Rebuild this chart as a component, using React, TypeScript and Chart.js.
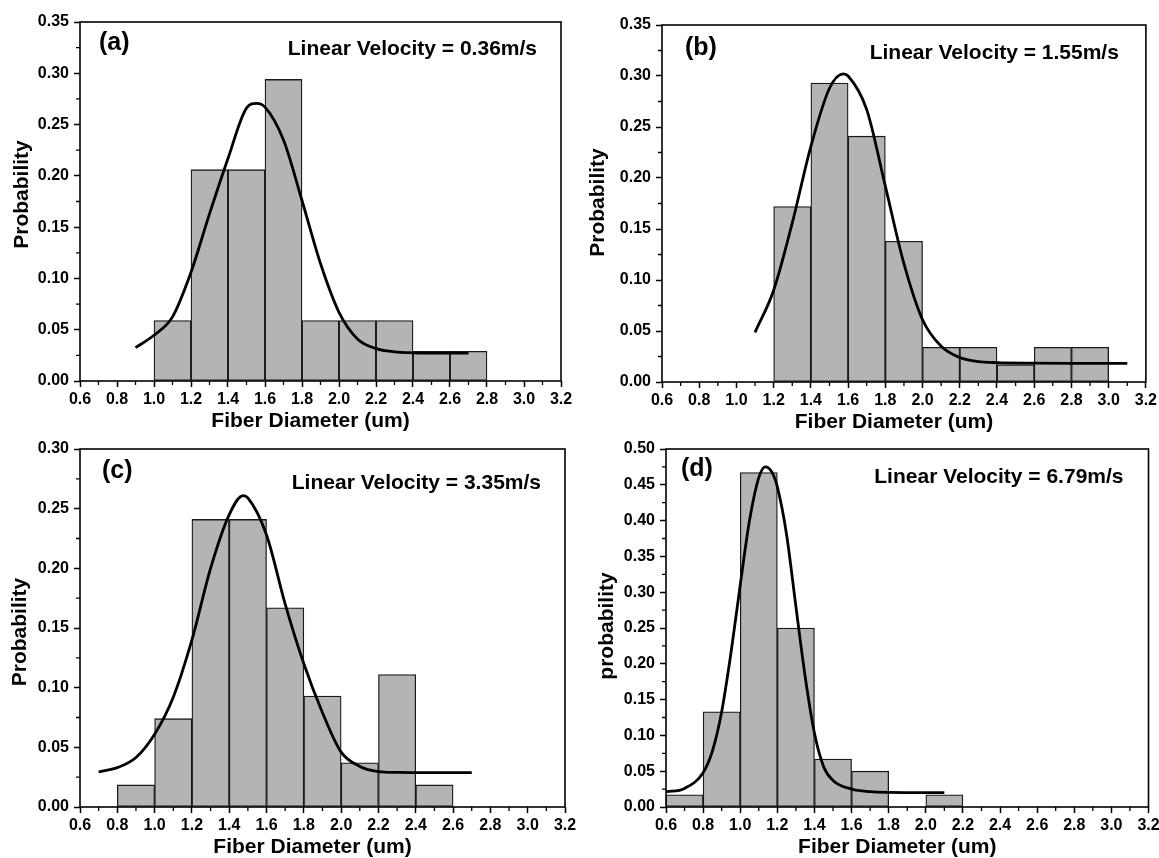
import React, { useEffect, useRef } from 'react';
import { Chart, registerables } from 'chart.js';

Chart.register(...registerables);

// ---------- data ----------
const xTickValues = [0.6, 0.8, 1.0, 1.2, 1.4, 1.6, 1.8, 2.0, 2.2, 2.4, 2.6, 2.8, 3.0, 3.2];
const xMinorTicks = [0.7, 0.9, 1.1, 1.3, 1.5, 1.7, 1.9, 2.1, 2.3, 2.5, 2.7, 2.9, 3.1];
const yTicks035 = [0, 0.05, 0.1, 0.15, 0.2, 0.25, 0.3, 0.35];
const yMinor035 = [0.025, 0.075, 0.125, 0.175, 0.225, 0.275, 0.325];
const yTicks030 = [0, 0.05, 0.1, 0.15, 0.2, 0.25, 0.3];
const yMinor030 = [0.025, 0.075, 0.125, 0.175, 0.225, 0.275];
const yTicks050 = [0, 0.05, 0.1, 0.15, 0.2, 0.25, 0.3, 0.35, 0.4, 0.45, 0.5];
const yMinor050 = [0.025, 0.075, 0.125, 0.175, 0.225, 0.275, 0.325, 0.375, 0.425, 0.475];

// (a) 0.36 m/s
const binCentersA = [1.1, 1.3, 1.5, 1.7, 1.9, 2.1, 2.3, 2.5, 2.7];
const probA = [0.059, 0.206, 0.206, 0.294, 0.059, 0.059, 0.059, 0.029, 0.029];
const fitXA = [0.9, 1.0, 1.1, 1.2, 1.3, 1.4, 1.5, 1.555, 1.6, 1.7, 1.8, 1.9, 2.0, 2.1, 2.2, 2.3, 2.4, 2.5, 2.6, 2.7];
const fitYA = [0.0325, 0.0446, 0.0625, 0.106, 0.163, 0.217, 0.266, 0.2707, 0.267, 0.235, 0.176, 0.1145, 0.067, 0.041, 0.0316, 0.0285, 0.0275, 0.0272, 0.0271, 0.0271];

// (b) 1.55 m/s
const binCentersB = [1.3, 1.5, 1.7, 1.9, 2.1, 2.3, 2.5, 2.7, 2.9];
const probB = [0.172, 0.293, 0.241, 0.138, 0.034, 0.034, 0.017, 0.034, 0.034];
const fitXB = [1.1, 1.2, 1.3, 1.4, 1.5, 1.575, 1.6, 1.7, 1.8, 1.9, 2.0, 2.1, 2.2, 2.3, 2.4, 2.6, 2.8, 3.0, 3.1];
const fitYB = [0.0487, 0.09, 0.156, 0.231, 0.288, 0.302, 0.3, 0.267, 0.192, 0.116, 0.061, 0.035, 0.024, 0.02, 0.019, 0.0185, 0.0183, 0.0183, 0.0183];

// (c) 3.35 m/s
const binCentersC = [0.9, 1.1, 1.3, 1.5, 1.7, 1.9, 2.1, 2.3, 2.5];
const probC = [0.0185, 0.074, 0.241, 0.241, 0.167, 0.093, 0.037, 0.111, 0.0185];
const fitXC = [0.7, 0.8, 0.9, 1.0, 1.1, 1.2, 1.3, 1.4, 1.475, 1.5, 1.6, 1.7, 1.8, 1.9, 2.0, 2.1, 2.2, 2.3, 2.5, 2.7];
const fitYC = [0.0295, 0.033, 0.0415, 0.061, 0.092, 0.14, 0.2, 0.245, 0.261, 0.259, 0.228, 0.17, 0.12, 0.079, 0.046, 0.034, 0.0297, 0.029, 0.0288, 0.0288];

// (d) 6.79 m/s
const binCentersD = [0.7, 0.9, 1.1, 1.3, 1.5, 1.7, 2.1];
const probD = [0.017, 0.133, 0.467, 0.25, 0.067, 0.05, 0.017];
const fitXD = [0.6, 0.7, 0.8, 0.85, 0.9, 0.95, 1.0, 1.05, 1.1, 1.135, 1.17, 1.2, 1.25, 1.3, 1.35, 1.4, 1.45, 1.5, 1.6, 1.7, 1.8, 2.1];
const fitYD = [0.021, 0.026, 0.048, 0.078, 0.133, 0.215, 0.31, 0.4, 0.46, 0.475, 0.468, 0.447, 0.38, 0.28, 0.182, 0.103, 0.056, 0.037, 0.025, 0.0215, 0.0205, 0.02];

const panelTags = ['(a)', '(b)', '(c)', '(d)'];
const velocityLabels = [
  'Linear Velocity = 0.36m/s',
  'Linear Velocity = 1.55m/s',
  'Linear Velocity = 3.35m/s',
  'Linear Velocity = 6.79m/s',
];
const yTitles = ['Probability', 'Probability', 'Probability', 'probability'];
const xTitle = 'Fiber Diameter (um)';

// ---------- layout / styles ----------
const FONT = "'Liberation Sans', Arial, Helvetica, sans-serif";
const layouts = [
  { x0: 0, y0: 0, w: 580, h: 440, L: 80, R: 561, T: 22, B: 381, yTitleX: 22, yTitleDy: -7, tagDx: 19, tagDy: 21, velDx: 24, velDy: 27, yMax: 0.35 },
  { x0: 580, y0: 0, w: 580, h: 440, L: 662, R: 1146, T: 25, B: 382, yTitleX: 598, yTitleDy: -1, tagDx: 23, tagDy: 23, velDx: 27, velDy: 28, yMax: 0.35 },
  { x0: 0, y0: 420, w: 580, h: 438, L: 80, R: 565, T: 449, B: 807, yTitleX: 20, yTitleDy: 4, tagDx: 22, tagDy: 22, velDx: 24, velDy: 34, yMax: 0.3 },
  { x0: 580, y0: 420, w: 590, h: 438, L: 666, R: 1148.5, T: 449, B: 807, yTitleX: 607, yTitleDy: -2, tagDx: 15, tagDy: 20, velDx: 25, velDy: 28, yMax: 0.5 },
];

const panelsData = [
  { centers: binCentersA, probs: probA, fx: fitXA, fy: fitYA, yt: yTicks035, ym: yMinor035 },
  { centers: binCentersB, probs: probB, fx: fitXB, fy: fitYB, yt: yTicks035, ym: yMinor035 },
  { centers: binCentersC, probs: probC, fx: fitXC, fy: fitYC, yt: yTicks030, ym: yMinor030 },
  { centers: binCentersD, probs: probD, fx: fitXD, fy: fitYD, yt: yTicks050, ym: yMinor050 },
];

const X_AXIS_H = 50;

const framePlugin = {
  id: 'frameDeco',
  afterDraw(chart: any, _args: any, opts: any) {
    const { ctx, chartArea: a, scales } = chart;
    ctx.save();
    ctx.strokeStyle = '#000';
    ctx.lineWidth = 1.6;
    ctx.strokeRect(a.left, a.top, a.right - a.left, a.bottom - a.top);
    // minor ticks
    ctx.lineWidth = 1.3;
    ctx.beginPath();
    opts.xMinor.forEach((v: number) => {
      const px = scales.x.getPixelForValue(v);
      ctx.moveTo(px, a.bottom);
      ctx.lineTo(px, a.bottom + 4);
    });
    opts.yMinor.forEach((v: number) => {
      const py = scales.y.getPixelForValue(v);
      ctx.moveTo(a.left, py);
      ctx.lineTo(a.left - 4, py);
    });
    ctx.stroke();

    ctx.fillStyle = '#000';
    // panel tag
    ctx.font = `bold 25px ${FONT}`;
    ctx.textAlign = 'left';
    ctx.textBaseline = 'middle';
    ctx.fillText(opts.tag, a.left + opts.tagDx, a.top + opts.tagDy);
    // velocity label
    ctx.font = `bold 21px ${FONT}`;
    ctx.textAlign = 'right';
    ctx.fillText(opts.vel, a.right - opts.velDx, a.top + opts.velDy);
    // x title
    ctx.font = `bold 21px ${FONT}`;
    ctx.textAlign = 'center';
    ctx.fillText(opts.xTitle, (a.left + a.right) / 2 - 10, a.bottom + 40);
    // y title
    ctx.translate(opts.yTitleX, (a.top + a.bottom) / 2 + opts.yTitleDy);
    ctx.rotate(-Math.PI / 2);
    ctx.fillText(opts.yTitle, 0, 0);
    ctx.restore();
  },
};

function Panel({ idx }: { idx: number }) {
  const ref = useRef<HTMLCanvasElement | null>(null);
  const lay = layouts[idx];
  useEffect(() => {
    const d = panelsData[idx];
    const canvas = ref.current;
    if (!canvas) return;
    const tickFont = { family: FONT, size: 16, weight: 'bold' as const };
    const chart = new Chart(canvas, {
      type: 'bar',
      data: {
        datasets: [
          {
            type: 'line' as const,
            data: d.fx.map((x, i) => ({ x, y: d.fy[i] })),
            borderColor: '#000',
            borderWidth: 2.8,
            pointRadius: 0,
            fill: false,
            cubicInterpolationMode: 'monotone' as const,
            order: 1,
          },
          {
            type: 'bar' as const,
            data: d.centers.map((x, i) => ({ x, y: d.probs[i] })),
            backgroundColor: '#b4b4b4',
            borderColor: '#1a1a1a',
            borderWidth: 1.3,
            borderSkipped: false,
            barPercentage: 1,
            categoryPercentage: 1,
            order: 2,
          } as any,
        ],
      },
      options: {
        animation: false,
        responsive: false,
        devicePixelRatio: 1,
        layout: {
          padding: {
            left: 0,
            top: lay.T - lay.y0,
            right: lay.x0 + lay.w - lay.R,
            bottom: lay.y0 + lay.h - lay.B - X_AXIS_H,
          },
        },
        plugins: {
          legend: { display: false },
          tooltip: { enabled: false },
          frameDeco: {
            xMinor: xMinorTicks,
            yMinor: d.ym,
            tag: panelTags[idx],
            vel: velocityLabels[idx],
            xTitle,
            yTitle: yTitles[idx],
            yTitleX: lay.yTitleX - lay.x0,
            yTitleDy: lay.yTitleDy,
            tagDx: lay.tagDx,
            tagDy: lay.tagDy,
            velDx: lay.velDx,
            velDy: lay.velDy,
          },
        } as any,
        scales: {
          x: {
            type: 'linear',
            min: 0.6,
            max: 3.2,
            offset: false,
            afterBuildTicks: (s: any) => {
              s.ticks = xTickValues.map((v) => ({ value: v }));
            },
            afterFit: (s: any) => {
              s.height = X_AXIS_H;
            },
            grid: {
              display: true,
              drawOnChartArea: false,
              drawTicks: true,
              tickLength: 6,
              tickWidth: 1.5,
              tickColor: '#000',
              offset: false,
            },
            border: { display: false },
            ticks: {
              color: '#000',
              font: tickFont,
              padding: 3,
              maxRotation: 0,
              autoSkip: false,
              callback: (v: any) => Number(v).toFixed(1),
            },
          },
          y: {
            type: 'linear',
            min: 0,
            max: lay.yMax,
            afterBuildTicks: (s: any) => {
              s.ticks = d.yt.map((v) => ({ value: v }));
            },
            afterFit: (s: any) => {
              s.width = lay.L - lay.x0;
            },
            grid: {
              display: true,
              drawOnChartArea: false,
              drawTicks: true,
              tickLength: 6,
              tickWidth: 1.5,
              tickColor: '#000',
            },
            border: { display: false },
            ticks: {
              color: '#000',
              font: tickFont,
              padding: 5,
              autoSkip: false,
              callback: (v: any) => Number(v).toFixed(2),
            },
          },
        } as any,
      },
      plugins: [framePlugin as any],
    });
    return () => chart.destroy();
  }, [idx]);
  return (
    <canvas
      ref={ref}
      width={lay.w}
      height={lay.h}
      style={{ position: 'absolute', left: lay.x0, top: lay.y0, width: lay.w, height: lay.h }}
    />
  );
}

export default function App() {
  return (
    <div
      style={{
        position: 'absolute',
        left: 0,
        top: 0,
        width: 1159,
        height: 858,
        overflow: 'hidden',
        background: '#fff',
      }}
    >
      {[0, 1, 2, 3].map((i) => (
        <Panel key={i} idx={i} />
      ))}
    </div>
  );
}
